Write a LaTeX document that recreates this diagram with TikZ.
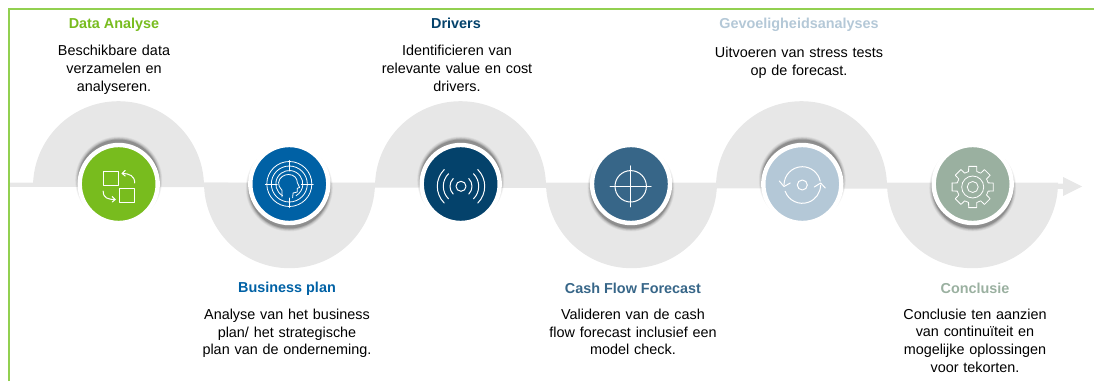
\documentclass[tikz,border=0pt]{standalone}
\usepackage{fontspec}
\setmainfont{Liberation Sans}
\definecolor{cgreen}{HTML}{78BC1E}
\definecolor{cblue}{HTML}{0061A5}
\definecolor{cnavy}{HTML}{04426B}
\definecolor{csteel}{HTML}{376688}
\definecolor{clight}{HTML}{B4C8D7}
\definecolor{csage}{HTML}{9AB0A0}
\definecolor{cband}{HTML}{E7E7E7}
\definecolor{cborder}{HTML}{92D050}
\tikzset{
  title/.style={font=\fontsize{14.4}{16}\selectfont\bfseries,anchor=center,inner sep=0pt},
  body/.style={font=\fontsize{14.4}{17.7}\selectfont,align=center,anchor=north,inner sep=0pt,text=black},
  disc/.style={circle,fill=#1,draw=white,line width=4.4pt,minimum size=78pt,inner sep=0pt},
  iconline/.style={draw=white,line width=1pt,line cap=round,line join=round},
  iconthin/.style={draw=white,line width=.8pt,line cap=round,line join=round},
}
% soft shadow behind a disc: #1 centre, #2 vertical offset
\newcommand{\softshadow}[2]{%
  \foreach \rr/\oo in {43.5/.04,42.8/.06,42/.08,41.3/.11,40.5/.16}{
    \fill[black,opacity=\oo] ([yshift=#2]#1) circle[radius=\rr pt];
  }}
\begin{document}
\begin{tikzpicture}[x=1pt,y=1pt]
\useasboundingbox (0,0) rectangle (1094,381);
% frame
\coordinate (fb) at (8.5,0); \coordinate (ft) at (8.5,372); \coordinate (fr) at (1094,372);
\draw[cborder,line width=2pt] (fb) -- (ft) -- (fr);
% arches
\fill[cband] (33,194.3) arc[start angle=180,end angle=0,radius=85.5] -- cycle;
\fill[cband] (204,198.3) arc[start angle=180,end angle=360,radius=85.5] -- cycle;
\fill[cband] (375,194.3) arc[start angle=180,end angle=0,radius=85.5] -- cycle;
\fill[cband] (546,198.3) arc[start angle=180,end angle=360,radius=85.5] -- cycle;
\fill[cband] (716,194.3) arc[start angle=180,end angle=0,radius=85.5] -- cycle;
\fill[cband] (887,198.3) arc[start angle=180,end angle=360,radius=85.5] -- cycle;
% band and arrowhead
\fill[cband] (10,198.5) -- (1063,197.3) -- (1063,204) -- (1082,194.5) -- (1063,185) -- (1063,192) -- (10,194.2) -- cycle;
% shadows
\coordinate (c1) at (118.7,197);
\coordinate (c2) at (289.3,197);
\coordinate (c3) at (460.7,197);
\coordinate (c4) at (631,197);
\coordinate (c5) at (802.3,197);
\coordinate (c6) at (972.7,197);
\softshadow{c1}{4pt}
\softshadow{c2}{-4pt}
\softshadow{c3}{4pt}
\softshadow{c4}{-4pt}
\softshadow{c5}{4pt}
\softshadow{c6}{-4pt}
% discs
\node[disc=cgreen] (d1) at (c1) {};
\node[disc=cblue] (d2) at (c2) {};
\node[disc=cnavy] (d3) at (c3) {};
\node[disc=csteel] (d4) at (c4) {};
\node[disc=clight] (d5) at (c5) {};
\node[disc=csage] (d6) at (c6) {};
% icon 1
\begin{scope}[shift={(c1)}]
  \draw[iconline] (-15.5,-1.7) rectangle (-0.7,13);
  \draw[iconline] (0.7,-18.7) rectangle (16,-4);
  \draw[iconline] (16,1) .. controls (16,8) and (11,10.5) .. (3.5,10.5);
  \draw[iconline] (6.5,13.5) -- (3.5,10.5) -- (6.5,8);
  \draw[iconline] (-15.5,-7) .. controls (-15.5,-14) and (-11,-15.5) .. (-3.5,-15.5);
  \draw[iconline] (-6.5,-12.5) -- (-3.5,-15.5) -- (-6.5,-18);
\end{scope}
% icon 2
\begin{scope}[shift={(c2)}]
  \draw[iconthin] (0,0) circle[radius=22.5];
  \draw[iconthin] (0,0) circle[radius=18];
  \draw[iconthin] (-300:13.5) arc[start angle=60,end angle=240,radius=13.5];
  \draw[iconthin] (-300:13.5) arc[start angle=60,end angle=-60,radius=13.5];
  \draw[iconthin] (-24,0) -- (-12,0) (12,0) -- (24,0) (0,23.5) -- (0,13) (0,-23.5) -- (0,-14);
  \draw[iconthin] (-7.3,-13) -- (-7.3,-6.3) .. controls (-10,-3) and (-11,-1) .. (-10.7,1.5)
     .. controls (-10,7) and (-5,9.5) .. (-0.7,9.5) .. controls (5,9.5) and (8,5.5) .. (8,1.5)
     -- (10.3,-3.5) -- (8,-4.3) -- (8,-8) -- (3.8,-9) -- (3.3,-13.7);
\end{scope}
% icon 3
\begin{scope}[shift={(461,194.7)}]
  \draw[iconline] (0,0) circle[radius=5];
  \foreach \r in {11,17.7,23.7}{
    \draw[iconline] (135:\r) arc[start angle=135,end angle=225,radius=\r];
    \draw[iconline] (45:\r) arc[start angle=45,end angle=-45,radius=\r];
  }
\end{scope}
% icon 4
\begin{scope}[shift={(630.7,194.7)}]
  \draw[iconline] (0,0) circle[radius=15.7];
  \draw[iconline] (-20.5,0) -- (20.5,0) (0,20.5) -- (0,-20.5);
\end{scope}
% icon 5
\begin{scope}[shift={(802.3,196)}]
  \draw[iconline] (0,0) circle[radius=5];
  \draw[iconline] (180:18.3) arc[start angle=180,end angle=12,radius=18.3];
  \draw[iconline] (-23,4) -- (-18.3,-1.5) -- (-12,2);
  \draw[iconline] (200:18.3) arc[start angle=200,end angle=360,radius=18.3];
  \draw[iconline] (23,-3) -- (18.3,2) -- (12,-2);
\end{scope}
% icon 6
\begin{scope}[shift={(972.7,194)}]
  \draw[iconthin] (0,0) circle[radius=5.5];
  \draw[iconthin] (0,0) circle[radius=11];
  \foreach \a in {0,45,...,315}{
    \draw[iconthin] (\a-11:21) -- (\a+11:21) -- (\a+15:16) arc[start angle=\a+15,end angle=\a+30,radius=16] -- (\a+34:21);
  }
\end{scope}
% texts
\node[title,text=cgreen] (t1) at (114,356.5) {Data Analyse};
\node[body,text width=160pt] (b1) at (114,336) {Beschikbare data\\verzamelen en\\analyseren.};
\node[title,text=cblue] (t2) at (287,92.5) {Business plan};
\node[body,text width=190pt] (b2) at (287,72.2) {Analyse van het business\\plan/ het strategische\\plan van de onderneming.};
\node[title,text=cnavy] (t3) at (456,358) {Drivers};
\node[body,text width=190pt] (b3) at (457,336) {Identificieren van\\relevante value en cost\\drivers.};
\node[title,text=csteel] (t4) at (633,92.5) {Cash Flow Forecast};
\node[body,text width=190pt] (b4) at (633,72.2) {Valideren van de cash\\flow forecast inclusief een\\model check.};
\node[title,text=clight] (t5) at (799,356) {Gevoeligheidsanalyses};
\node[body,text width=190pt] (b5) at (799,334) {Uitvoeren van stress tests\\op de forecast.};
\node[title,text=csage] (t6) at (975,92.5) {Conclusie};
\node[body,text width=180pt] (b6) at (975,72.5) {Conclusie ten aanzien\\van continuïteit en\\mogelijke oplossingen\\voor tekorten.};
\end{tikzpicture}
\end{document}
